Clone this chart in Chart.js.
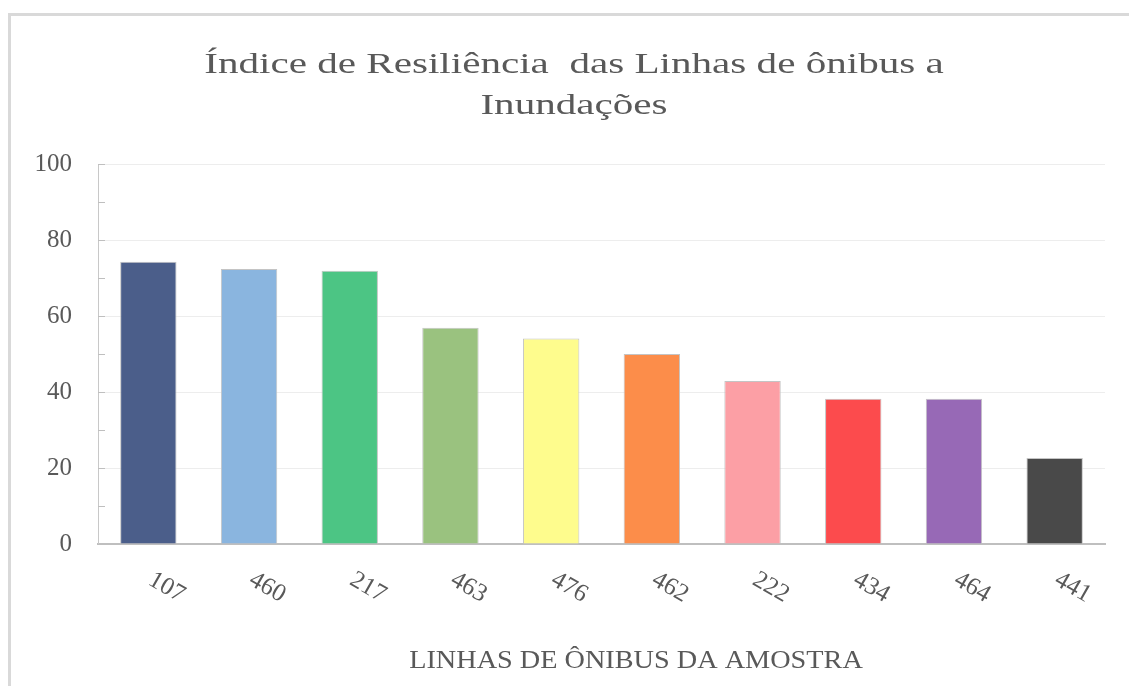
<!DOCTYPE html>
<html>
<head>
<meta charset="utf-8">
<script src="https://cdn.jsdelivr.net/npm/chart.js@4.4.0/dist/chart.umd.min.js"></script>
<style>
html, body { margin: 0; padding: 0; background: #fff; overflow: hidden; }
#chart { display: block; }
</style>
</head>
<body>
<canvas id="chart" width="1129" height="686"></canvas>
<script>
// --- Data ---
const LINES = ['107', '460', '217', '463', '476', '462', '222', '434', '464', '441'];
const INDICE = [74.3, 72.4, 71.9, 56.9, 54.1, 50.0, 42.9, 38.2, 38.2, 22.6];
const Y_MIN = 0;
const Y_MAX = 100;
const Y_STEP = 20;
const TITLE_LINES = ['Índice de Resiliência  das Linhas de ônibus a', 'Inundações'];
const X_TITLE = 'LINHAS DE ÔNIBUS DA AMOSTRA';

// --- Style ---
const BAR_COLORS = ['#4b5e8a', '#8ab5df', '#4cc584', '#9ac27f', '#fefc8d',
                    '#fc8d4a', '#fc9fa5', '#fc4b4d', '#9769b6', '#494949'];
const FONT = '"Liberation Serif", "Times New Roman", serif';
const TEXT_COLOR = '#595959';
const TITLE_CX = 574;

// grey frame of the chart box (only top and left edges are in view)
const frame = {
    id: 'frame',
    beforeDraw(chart) {
        const { ctx, width, height } = chart;
        ctx.save();
        ctx.fillStyle = '#d9d9d9';
        ctx.fillRect(8, 13, width - 8, 3);
        ctx.fillRect(8, 13, 3, height - 13);
        ctx.restore();
    }
};

// titles, rotated category labels and the small inside tick marks
const decorations = {
    id: 'decorations',
    afterDraw(chart) {
        const { ctx, chartArea, scales: { x, y } } = chart;
        ctx.save();

        // minor tick marks on the value axis (inside the plot)
        ctx.strokeStyle = '#bfbfbf';
        ctx.lineWidth = 1;
        y.ticks.forEach(t => {
            [t.value, t.value + Y_STEP / 2].forEach(v => {
                if (v > y.max) return;
                const py = Math.round(y.getPixelForValue(v)) + 0.5;
                ctx.beginPath();
                ctx.moveTo(chartArea.left, py);
                ctx.lineTo(chartArea.left + 7, py);
                ctx.stroke();
            });
        });

        // rotated line numbers under the bars
        ctx.fillStyle = TEXT_COLOR;
        ctx.font = '25px ' + FONT;
        ctx.textAlign = 'left';
        ctx.textBaseline = 'middle';
        LINES.forEach((lbl, i) => {
            ctx.save();
            ctx.translate(x.getPixelForTick(i) + 2, chartArea.bottom + 34);
            ctx.rotate(Math.PI / 6);
            ctx.fillText(lbl, 0, 0);
            ctx.restore();
        });

        // chart title (stretched wide like the original)
        ctx.textAlign = 'center';
        ctx.textBaseline = 'alphabetic';
        ctx.font = '30px ' + FONT;
        TITLE_LINES.forEach((line, i) => {
            ctx.save();
            ctx.translate(TITLE_CX, 73 + i * 41);
            ctx.scale(1.37, 1);
            ctx.fillText(line, 0, 0);
            ctx.restore();
        });

        // axis title
        ctx.font = '25px ' + FONT;
        ctx.save();
        ctx.translate(636, 668);
        ctx.scale(1.13, 1);
        ctx.fillText(X_TITLE, 0, 0);
        ctx.restore();

        ctx.restore();
    }
};

new Chart(document.getElementById('chart'), {
    type: 'bar',
    data: {
        labels: LINES,
        datasets: [{
            label: 'Índice de Resiliência',
            data: INDICE,
            backgroundColor: BAR_COLORS,
            borderColor: '#c4c4c4',
            borderWidth: 1,
            barPercentage: 0.56,
            categoryPercentage: 1
        }]
    },
    options: {
        responsive: false,
        animation: false,
        layout: { padding: { left: 30, right: 24, top: 164, bottom: 0 } },
        plugins: {
            legend: { display: false },
            title: { display: false },
            tooltip: { enabled: false }
        },
        scales: {
            x: {
                grid: { display: false },
                border: { color: '#bfbfbf', width: 2 },
                ticks: { display: false },
                afterFit: s => { s.height = 142; }
            },
            y: {
                min: Y_MIN,
                max: Y_MAX,
                ticks: {
                    stepSize: Y_STEP,
                    padding: 26,
                    color: TEXT_COLOR,
                    font: { family: FONT, size: 25 }
                },
                grid: {
                    drawTicks: false,
                    color: ctx => ctx.tick && ctx.tick.value === 0 ? 'rgba(0,0,0,0)' : '#ededed'
                },
                border: { color: '#c8c8c8', width: 1 },
                afterFit: s => { s.width = 68; }
            }
        }
    },
    plugins: [frame, decorations]
});
</script>
</body>
</html>
